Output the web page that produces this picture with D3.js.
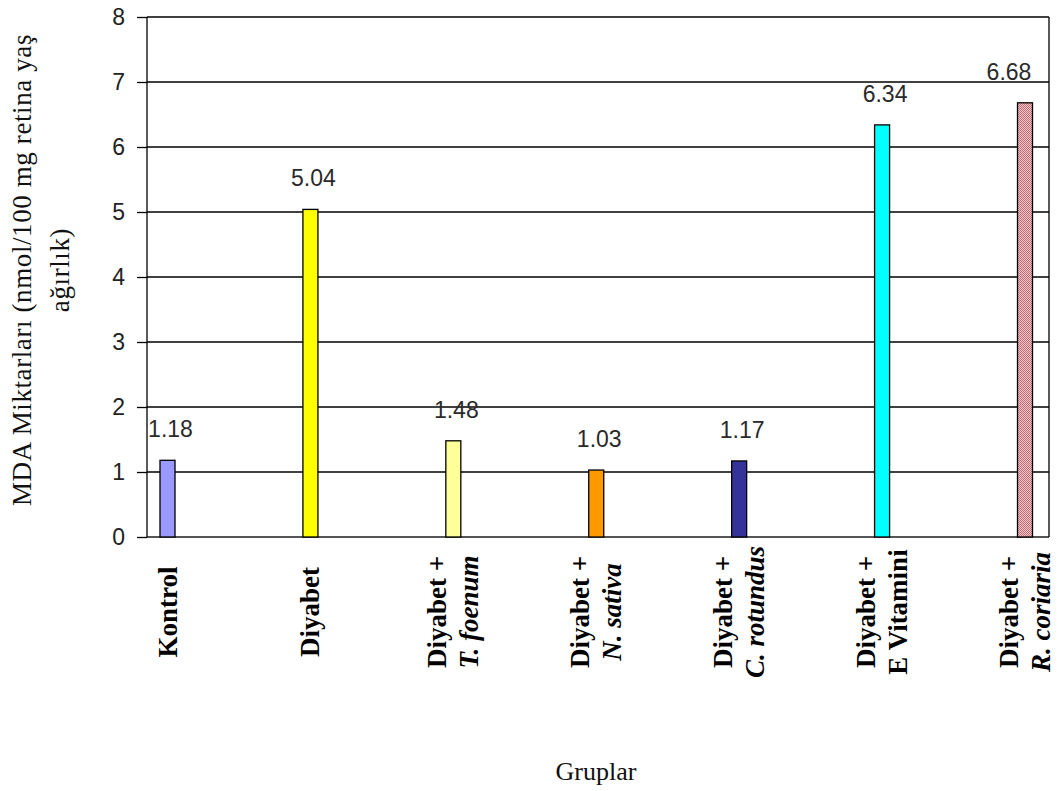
<!DOCTYPE html>
<html>
<head>
<meta charset="utf-8">
<script src="https://cdn.jsdelivr.net/npm/d3@7/dist/d3.min.js"></script>
<style>
  html, body { margin: 0; padding: 0; background: #fff; }
  svg { display: block; }
</style>
</head>
<body>
<svg id="chart" width="1059" height="791"></svg>
<script>
// Group names: first line regular, second line (species) italic where given
const groupLine1 = ["Kontrol", "Diyabet", "Diyabet +", "Diyabet +", "Diyabet +", "Diyabet +", "Diyabet +"];
const groupLine2 = ["", "", "T. foenum", "N. sativa", "C. rotundus", "E Vitamini", "R. coriaria"];
const groupItalic = [false, false, true, true, true, false, true];
// MDA levels (nmol / 100 mg wet retina weight)
const mdaValues = [1.18, 5.04, 1.48, 1.03, 1.17, 6.34, 6.68];
const valueLabels = ["1.18", "5.04", "1.48", "1.03", "1.17", "6.34", "6.68"];
const barColors = ["#9999ff", "#ffff00", "#ffff99", "#ff9900", "#333399", "#00ffff", "url(#dots)"];
const yTicks = [0, 1, 2, 3, 4, 5, 6, 7, 8];

const svg = d3.select("#chart");
const W = 1059, H = 791;
const plotL = 147, plotR = 1049, plotT = 17, plotB = 537;

// dotted fill for the last bar
const defs = svg.append("defs");
const pat = defs.append("pattern").attr("id", "dots")
  .attr("width", 2).attr("height", 2).attr("patternUnits", "userSpaceOnUse");
pat.append("rect").attr("width", 2).attr("height", 2).attr("fill", "#f2c8cc");
pat.append("rect").attr("width", 1).attr("height", 1).attr("fill", "#c06a74");
pat.append("rect").attr("x", 1).attr("y", 1).attr("width", 1).attr("height", 1).attr("fill", "#c06a74");

const idx = d3.range(groupLine1.length);
// narrow bars spread across the frame
const x = d3.scaleBand().domain(idx).range([plotL + 13, plotR - 16.5])
  .paddingInner(0.895).paddingOuter(0);
const y = d3.scaleLinear().domain([0, 8]).range([plotB, plotT]);

const barW = x.bandwidth();
const barC = i => x(i) + barW / 2;

// left ticks and their labels
const yAxis = d3.axisLeft(y).tickValues(yTicks).tickSize(10).tickPadding(12).tickFormat(d3.format("d"));
const ga = svg.append("g").attr("transform", `translate(${plotL},0)`).call(yAxis);
ga.select(".domain").remove();
ga.selectAll(".tick line").attr("stroke", "#000").attr("stroke-width", 1.3);
ga.selectAll(".tick text")
  .attr("font-family", "'Liberation Sans', Arial, sans-serif")
  .attr("font-size", 23).attr("fill", "#222");

// horizontal gridlines
svg.append("g").selectAll("line").data(yTicks).join("line")
  .attr("x1", plotL).attr("x2", plotR)
  .attr("y1", d => y(d)).attr("y2", d => y(d))
  .attr("stroke", d => d === 0 ? "#555" : "#000")
  .attr("stroke-width", d => d === 0 ? 2 : 1.3);

// frame sides
svg.append("line").attr("x1", plotL).attr("x2", plotL).attr("y1", plotT).attr("y2", plotB)
  .attr("stroke", "#000").attr("stroke-width", 1.3);
svg.append("line").attr("x1", plotR).attr("x2", plotR).attr("y1", plotT).attr("y2", plotB)
  .attr("stroke", "#000").attr("stroke-width", 1.3);

// bars
svg.append("g").selectAll("rect").data(idx).join("rect")
  .attr("x", i => x(i))
  .attr("y", i => y(mdaValues[i]))
  .attr("width", barW)
  .attr("height", i => y(0) - y(mdaValues[i]))
  .attr("fill", i => barColors[i])
  .attr("stroke", "#000").attr("stroke-width", 1.3);

// value labels above bars, kept inside the frame
svg.append("g").selectAll("text").data(idx).join("text")
  .attr("x", i => Math.min(barC(i) + 3, plotR - 40))
  .attr("y", i => y(mdaValues[i]) - 23)
  .attr("text-anchor", "middle")
  .attr("font-family", "'Liberation Sans', Arial, sans-serif")
  .attr("font-size", 23).attr("fill", "#2a2a2a")
  .text(i => valueLabels[i]);

// category labels, rotated
const cat = svg.append("g").selectAll("g").data(idx).join("g")
  .attr("transform", i => `translate(${barC(i)},612) rotate(-90)`);
cat.each(function (i) {
  const g = d3.select(this);
  const two = groupLine2[i] !== "";
  g.append("text")
    .attr("text-anchor", "middle")
    .attr("dy", two ? -7 : 9)
    .attr("font-family", "'Liberation Serif', 'Times New Roman', serif")
    .attr("font-weight", "bold").attr("font-size", 27).attr("fill", "#000")
    .text(groupLine1[i]);
  if (two) {
    g.append("text")
      .attr("text-anchor", "middle")
      .attr("dy", 25)
      .attr("font-family", "'Liberation Serif', 'Times New Roman', serif")
      .attr("font-weight", "bold").attr("font-size", 27)
      .attr("font-style", groupItalic[i] ? "italic" : "normal").attr("fill", "#000")
      .text(groupLine2[i]);
  }
});

// axis titles
const yt = svg.append("g").attr("transform", "translate(0,270) rotate(-90)");
yt.append("text").attr("text-anchor", "middle").attr("y", 31)
  .attr("font-family", "'Liberation Serif', 'Times New Roman', serif")
  .attr("font-size", 27).attr("letter-spacing", 0.6).attr("fill", "#111")
  .text("MDA Miktarları (nmol/100 mg retina yaş");
yt.append("text").attr("text-anchor", "middle").attr("y", 69)
  .attr("font-family", "'Liberation Serif', 'Times New Roman', serif")
  .attr("font-size", 27).attr("letter-spacing", 0.6).attr("fill", "#111")
  .text("ağırlık)");

svg.append("text").attr("x", 596).attr("y", 780).attr("text-anchor", "middle")
  .attr("font-family", "'Liberation Serif', 'Times New Roman', serif")
  .attr("font-size", 26).attr("fill", "#111")
  .text("Gruplar");
</script>
</body>
</html>
